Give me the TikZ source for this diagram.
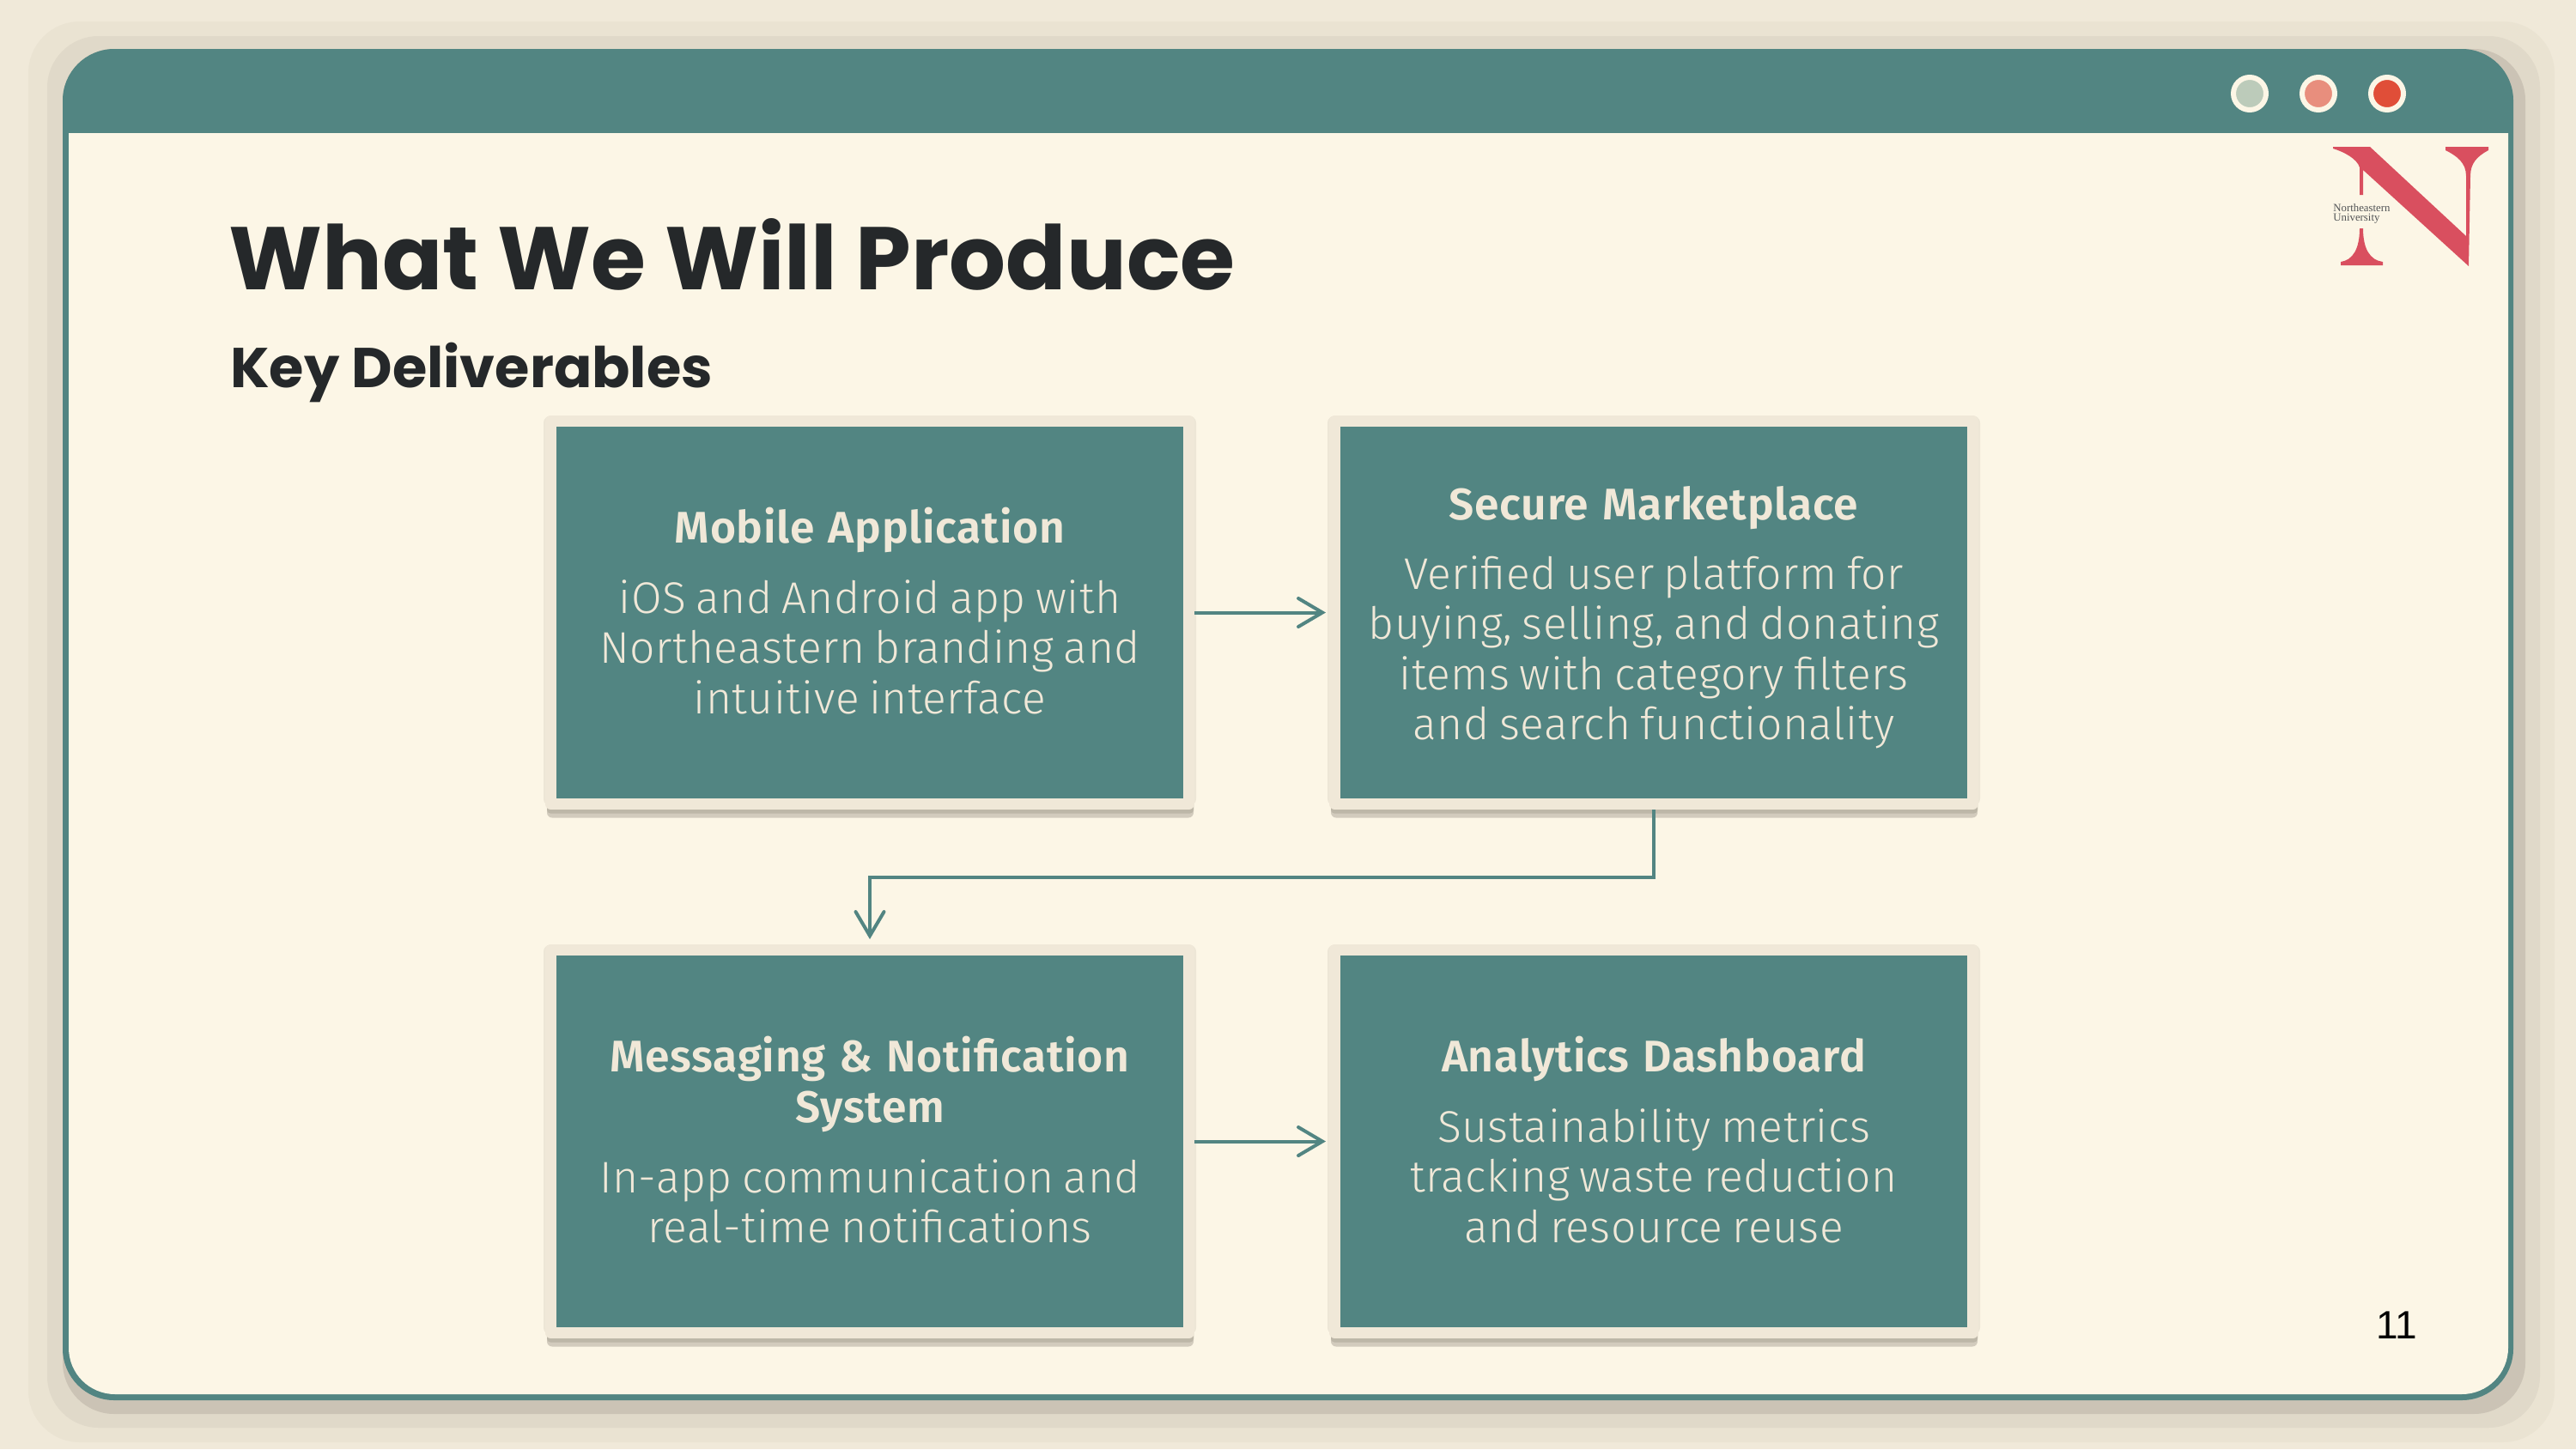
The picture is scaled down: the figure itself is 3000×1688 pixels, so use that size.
\documentclass[tikz,border=0pt]{standalone}
\usepackage{fontspec}
\usetikzlibrary{arrows.meta}
\setmainfont{Liberation Sans}
\newfontfamily\headf{Poppins}
\newfontfamily\bodyf[LetterSpace=1.0]{Fira Sans Light}
\newfontfamily\boxhf[LetterSpace=1.4]{Fira Sans SemiBold}
\newfontfamily\logof{Liberation Serif}
\definecolor{bgc}{HTML}{F0E9D9}
\definecolor{shA}{HTML}{EAE3D2}
\definecolor{shB}{HTML}{E0D9C9}
\definecolor{shC}{HTML}{CBC3B5}
\definecolor{panelc}{HTML}{FCF6E6}
\definecolor{tealc}{HTML}{528582}
\definecolor{creamc}{HTML}{F0E8D8}
\definecolor{darkc}{HTML}{25282A}
\definecolor{logoc}{HTML}{D94F5F}
\definecolor{dotA}{HTML}{BCCBBA}
\definecolor{dotB}{HTML}{E88E7D}
\definecolor{dotC}{HTML}{E04E38}
\definecolor{boxsA}{HTML}{D2CBBD}
\definecolor{boxsB}{HTML}{BDB7A8}
\definecolor{boxh}{HTML}{EDE6D6}
\newcommand{\bt}{\boxhf\fontsize{25.8}{29.5}\selectfont\spaceskip=.31em\relax}
\newcommand{\bb}{\bodyf\fontsize{25.8}{29.2}\selectfont\spaceskip=.22em\relax}
\tikzset{
  deliv/.style={shape=rectangle,fill=tealc,draw=creamc,line width=6.5pt,line join=round,
    minimum width=371.5pt,minimum height=223pt,inner sep=0pt,text width=360pt,align=center,text=creamc},
  conn/.style={draw=tealc,line width=2pt,-{Straight Barb[length=14pt,width=16.5pt,line cap=round]}},
  dot/.style={circle,fill=#1,draw=panelc,line width=3pt,minimum size=19pt,inner sep=0pt}
}
\begin{document}
\begin{tikzpicture}[x=0.5pt,y=-0.5pt]
\useasboundingbox (0,0) rectangle (3000,1688);
\fill[bgc] (0,0) rectangle (3000,1688);
% panel shadow
\fill[shA,rounded corners=30pt] (33,25) rectangle (2975,1680);
\fill[shB,rounded corners=30pt] (55,42) rectangle (2958,1663);
\fill[shC,rounded corners=30pt] (73,57) rectangle (2941,1647);
% panel
\fill[tealc,rounded corners=30pt] (73,57) rectangle (2927,1631);
\fill[panelc,rounded corners=27pt] (80,300) -- (80,1624) -- (2921,1624) -- (2921,300) [sharp corners] -- (2921,155) -- (80,155) -- cycle;
% window dots
\node[dot=dotA] (d1) at (2620,109) {};
\node[dot=dotB] (d2) at (2700,109) {};
\node[dot=dotC] (d3) at (2780,109) {};
% logo
\fill[logoc] (2717,171) -- (2760,171) -- (2872,275) -- (2872,205)
  .. controls (2872,190) and (2862,182) .. (2848,175) -- (2848,171) -- (2898,171) -- (2898,175)
  .. controls (2885,182) and (2877,190) .. (2877,205) -- (2875,310) -- (2752,198) -- (2752,227) -- (2748,227) -- (2748,195)
  .. controls (2745,185) and (2730,177) .. (2717,173) -- cycle;
\fill[logoc] (2748,266) -- (2752,266) .. controls (2752,290) and (2760,303) .. (2775,305) -- (2775,309) -- (2726,309) -- (2726,305) .. controls (2740,303) and (2748,290) .. (2748,266) -- cycle;
\node[anchor=north west,inner sep=0pt,align=left,text=darkc!80,font=\logof\fontsize{6.4}{5.5}\selectfont] (logotext) at (2717,237) {Northeastern\\University};
% headings
\node[anchor=base west,inner sep=0pt,text=darkc,font=\headf\bfseries\fontsize{51.8}{54}\selectfont] (title) at (266,337.5) {What We Will Produce};
\node[anchor=base west,inner sep=0pt,text=darkc,font=\headf\bfseries\fontsize{32.7}{36}\selectfont] (sub) at (268,451) {Key Deliverables};
% box shadows
\foreach \cx/\cy in {1013/713.5,1926/713.5,1013/1329.5,1926/1329.5}{
  \fill[boxh,rounded corners=4pt] (\cx-380,\cy-229) rectangle (\cx+380,\cy+225);
  \fill[boxsA,rounded corners=3pt] (\cx-376,\cy+200) rectangle (\cx+377,\cy+239);
  \fill[boxsB,rounded corners=2pt] (\cx-376,\cy+200) rectangle (\cx+377,\cy+234);
}
% boxes
\node[deliv] (a) at (1013,713.5) {\bt Mobile Application\\[11.5pt]\bb iOS and Android app with\\Northeastern branding and\\intuitive interface\par\vspace*{1.9pt}};
\node[deliv] (b) at (1926,713.5) {\bt Secure Marketplace\\[11.5pt]\bb Verified user platform for\\buying, selling, and donating\\items with category filters\\and search functionality\par\vspace*{-5.7pt}};
\node[deliv] (c) at (1013,1329.5) {\bt Messaging \& Notification\\System\\[11.5pt]\bb In-app communication and\\real-time notifications\par\vspace*{1.9pt}};
\node[deliv] (d) at (1926,1329.5) {\bt Analytics Dashboard\\[11.5pt]\bb Sustainability metrics\\tracking waste reduction\\and resource reuse\par\vspace*{1.9pt}};
% connectors
\draw[conn,shorten >=2pt] (a.east) -- (b.west);
\draw[conn,shorten >=2pt] (c.east) -- (d.west);
\draw[conn,shorten >=3pt] (b.south) -- ++(0,79) -| (c.north);
% page number
\node[inner sep=0pt,text=black,font=\fontsize{23}{26}\selectfont] (page) at (2791,1544) {11};
\end{tikzpicture}
\end{document}
